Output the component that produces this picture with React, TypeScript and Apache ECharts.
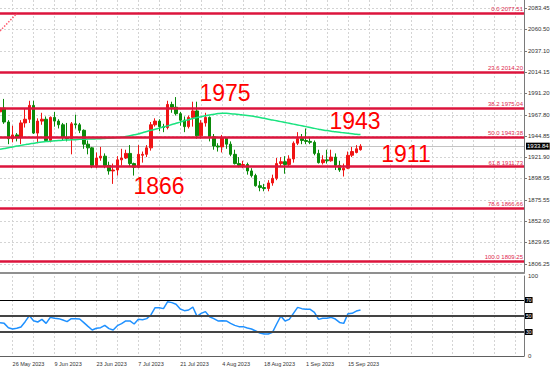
import React, { useEffect, useRef } from 'react';
import * as echarts from 'echarts';

const dates = [
  '23 May 2023', '24 May 2023', '25 May 2023', '26 May 2023', '29 May 2023', '30 May 2023', '31 May 2023',
  '1 Jun 2023', '2 Jun 2023', '5 Jun 2023', '6 Jun 2023', '7 Jun 2023', '8 Jun 2023', '9 Jun 2023',
  '12 Jun 2023', '13 Jun 2023', '14 Jun 2023', '15 Jun 2023', '16 Jun 2023', '19 Jun 2023', '20 Jun 2023',
  '21 Jun 2023', '22 Jun 2023', '23 Jun 2023', '26 Jun 2023', '27 Jun 2023', '28 Jun 2023', '29 Jun 2023',
  '30 Jun 2023', '3 Jul 2023', '4 Jul 2023', '5 Jul 2023', '6 Jul 2023', '7 Jul 2023', '10 Jul 2023',
  '11 Jul 2023', '12 Jul 2023', '13 Jul 2023', '14 Jul 2023', '17 Jul 2023', '18 Jul 2023', '19 Jul 2023',
  '20 Jul 2023', '21 Jul 2023', '24 Jul 2023', '25 Jul 2023', '26 Jul 2023', '27 Jul 2023', '28 Jul 2023',
  '31 Jul 2023', '1 Aug 2023', '2 Aug 2023', '3 Aug 2023', '4 Aug 2023', '7 Aug 2023', '8 Aug 2023',
  '9 Aug 2023', '10 Aug 2023', '11 Aug 2023', '14 Aug 2023', '15 Aug 2023', '16 Aug 2023', '17 Aug 2023',
  '18 Aug 2023', '21 Aug 2023', '22 Aug 2023', '23 Aug 2023', '24 Aug 2023', '25 Aug 2023', '28 Aug 2023',
  '29 Aug 2023', '30 Aug 2023', '31 Aug 2023', '1 Sep 2023', '4 Sep 2023', '5 Sep 2023', '6 Sep 2023',
  '7 Sep 2023', '8 Sep 2023', '11 Sep 2023', '12 Sep 2023', '13 Sep 2023', '14 Sep 2023', '15 Sep 2023',
  '18 Sep 2023', '19 Sep 2023', '20 Sep 2023',
];

const opens = [
  1971, 1975, 1960, 1942, 1946, 1943, 1959, 1963, 1978, 1948, 1961, 1963, 1940, 1965,
  1961, 1957, 1943, 1942, 1958, 1957, 1951, 1936, 1932, 1913, 1921, 1923, 1913, 1907,
  1908, 1919, 1921, 1926, 1915, 1911, 1924, 1925, 1932, 1957, 1961, 1955, 1954, 1979,
  1976, 1969, 1962, 1955, 1965, 1972, 1945, 1959, 1965, 1944, 1934, 1933, 1943, 1936,
  1925, 1915, 1913, 1914, 1907, 1902, 1891, 1889, 1888, 1894, 1899, 1915, 1917, 1914,
  1920, 1937, 1942, 1940, 1939, 1938, 1926, 1916, 1919, 1918, 1922, 1913, 1908, 1910,
  1924, 1927, 1930,
];
const highs = [
  1984, 1985, 1962, 1956, 1948, 1962, 1975, 1983, 1983, 1964, 1970, 1966, 1966, 1971,
  1963, 1959, 1959, 1960, 1968, 1959, 1952, 1940, 1933, 1927, 1933, 1926, 1917, 1915,
  1923, 1931, 1930, 1935, 1916, 1935, 1928, 1935, 1960, 1964, 1963, 1958, 1983, 1982,
  1987, 1971, 1966, 1967, 1982, 1982, 1962, 1970, 1966, 1947, 1937, 1946, 1943, 1939,
  1930, 1922, 1918, 1916, 1910, 1904, 1896, 1893, 1897, 1903, 1921, 1922, 1923, 1924,
  1939, 1949, 1947, 1953, 1943, 1940, 1930, 1924, 1930, 1930, 1926, 1918, 1915, 1928,
  1933, 1935, 1936,
];
const lows = [
  1956, 1958, 1936, 1938, 1939, 1936, 1954, 1959, 1947, 1937, 1957, 1940, 1938, 1955,
  1953, 1940, 1939, 1925, 1953, 1948, 1931, 1925, 1910, 1910, 1918, 1910, 1903, 1893,
  1902, 1913, 1920, 1912, 1902, 1910, 1916, 1922, 1929, 1955, 1950, 1949, 1952, 1970,
  1967, 1956, 1949, 1953, 1955, 1942, 1942, 1955, 1939, 1930, 1928, 1927, 1931, 1923,
  1914, 1911, 1910, 1903, 1900, 1890, 1885, 1885, 1885, 1891, 1897, 1912, 1904, 1912,
  1916, 1935, 1936, 1936, 1936, 1924, 1915, 1914, 1915, 1917, 1908, 1906, 1901, 1909,
  1922, 1926, 1929,
];
const closes = [
  1975, 1960, 1942, 1946, 1943, 1959, 1963, 1978, 1948, 1961, 1963, 1940, 1965, 1961,
  1957, 1943, 1942, 1958, 1957, 1951, 1936, 1932, 1913, 1921, 1923, 1913, 1907, 1908,
  1919, 1921, 1926, 1915, 1911, 1925, 1925, 1932, 1957, 1961, 1955, 1954, 1979, 1976,
  1969, 1962, 1955, 1965, 1972, 1945, 1959, 1965, 1944, 1934, 1933, 1943, 1936, 1925,
  1915, 1913, 1914, 1907, 1902, 1891, 1889, 1888, 1894, 1899, 1915, 1917, 1914, 1920,
  1937, 1942, 1940, 1939, 1938, 1926, 1916, 1919, 1918, 1922, 1913, 1908, 1910, 1924,
  1928, 1931, 1933.84,
];

const maValues = [
  1930.4, 1931.3, 1932.2, 1933.0, 1933.9, 1934.7, 1935.5, 1936.3, 1937.0, 1937.8,
  1938.4, 1938.8, 1939.2, 1939.6, 1940.0, 1940.3, 1940.5, 1940.7, 1940.9, 1941.2,
  1941.3, 1941.5, 1941.6, 1941.8, 1941.9, 1942.2, 1942.5, 1942.8, 1943.1, 1943.5,
  1944.2, 1945.1, 1946.1, 1947.0, 1948.4, 1949.7, 1951.0, 1952.2, 1953.4, 1954.6,
  1955.8, 1957.2, 1958.6, 1959.9, 1961.3, 1962.5, 1963.7, 1964.8, 1965.8, 1966.8,
  1967.7, 1968.4, 1969.1, 1969.4, 1969.4, 1969.0, 1968.6, 1968.2, 1967.6, 1967.0,
  1966.4, 1965.8, 1965.0, 1964.1, 1963.1, 1962.2, 1961.3, 1960.4, 1959.5, 1958.6,
  1957.7, 1956.8, 1955.9, 1955.0, 1954.1, 1953.1, 1952.2, 1951.3, 1950.7, 1950.1,
  1949.4, 1948.8, 1948.3, 1947.8, 1947.3, 1946.8, 1946.4,
];

const rsiValues = [
  41.7, 40.8, 35.4, 33.8, 34.6, 36.3, 42.9, 50.5, 44.0, 42.5,
  45.8, 40.8, 48.3, 47.1, 46.7, 45.0, 43.0, 46.7, 46.7, 46.3,
  41.7, 37.0, 32.5, 34.6, 35.4, 38.3, 34.2, 32.5, 37.9, 40.4,
  43.8, 43.8, 40.0, 45.8, 45.4, 46.7, 51.3, 60.4, 60.4, 59.2,
  67.9, 66.7, 64.6, 58.7, 56.7, 57.5, 61.2, 49.6, 53.3, 55.5,
  49.0, 46.7, 43.8, 44.2, 43.8, 40.8, 38.3, 36.7, 36.7, 35.0,
  33.8, 31.3, 28.8, 27.5, 27.5, 29.5, 40.0, 50.0, 43.8, 45.8,
  53.3, 60.8, 59.2, 58.3, 58.3, 54.6, 45.8, 47.1, 47.1, 48.3,
  46.2, 42.0, 40.8, 52.9, 53.3, 56.2, 57.5,
];

const priceTicks = [
  2083.45, 2060.5, 2037.1, 2014.15, 1991.2, 1967.8, 1944.85,
  1921.9, 1898.95, 1875.55, 1852.6, 1829.65, 1806.25,
];
const fibPct = ['0.0', '23.6', '38.2', '50.0', '61.8', '78.6', '100.0'];
const fibLevels = [2077.51, 2014.2, 1975.04, 1943.38, 1911.73, 1866.66, 1809.25];
const rsiLevels = [70, 50, 30];
const rsiTicks = [0, 100];
const lastPrice = 1933.84;
const annotations = ['1975', '1943', '1911', '1866'];
const fibTrendStart = 2058.6;
const futureSlots = 39;

export default function App() {
  const ref = useRef<HTMLDivElement>(null);

  useEffect(() => {
    if (!ref.current) return;
    const chart = echarts.init(ref.current, undefined, { renderer: 'svg' });

    const categories = dates.concat(Array.from({ length: futureSlots }, (_, k) => 'f' + k));
    const isGridIdx = (idx: number) => idx % 5 === 3;
    const isLabelIdx = (idx: number) => idx % 10 === 3 && idx < dates.length;
    const fontFamily = '"Liberation Sans", Arial, sans-serif';
    const splitStyle = { color: '#d4d4d4', type: [2, 2] as any, width: 1 };
    const candleData = dates.map((_, i) => [opens[i], closes[i], lows[i], highs[i]]);

    const fibMarks: any[] = fibLevels.map((v, k) => ({
      yAxis: v,
      label: { formatter: `${fibPct[k]} ${v.toFixed(2)}` },
    }));
    fibMarks.push([
      {
        coord: [0, fibTrendStart],
        lineStyle: { type: 'dotted', color: '#ff5a6e', width: 1.5 },
        label: { show: false },
      },
      { coord: [4, fibLevels[0]] },
    ]);

    const textEl = (t: string, x: number, y: number) => ({
      type: 'text',
      x,
      y,
      z: 100,
      style: {
        text: t,
        fill: '#ff0000',
        fontSize: 23,
        fontFamily,
        align: 'center',
        verticalAlign: 'middle',
      },
    });

    chart.setOption({
      animation: false,
      backgroundColor: '#ffffff',
      grid: [
        { left: -1, right: 30, top: 0, height: 273 },
        { left: -1, right: 30, top: 276, height: 80 },
      ],
      xAxis: [
        {
          type: 'category',
          gridIndex: 0,
          data: categories,
          boundaryGap: false,
          axisLine: { show: true, lineStyle: { color: '#8f8f8f', width: 2 } },
          axisTick: { show: false },
          axisLabel: { show: false },
          splitLine: { show: true, interval: (idx: number) => isGridIdx(idx), lineStyle: splitStyle },
        },
        {
          type: 'category',
          gridIndex: 1,
          data: categories,
          boundaryGap: false,
          axisLine: { show: true, lineStyle: { color: '#606060', width: 1 } },
          axisTick: { show: false },
          axisLabel: {
            show: true,
            interval: (idx: number) => isLabelIdx(idx),
            align: 'left',
            fontSize: 5.5,
            fontFamily,
            color: '#333',
            margin: 5,
          },
          splitLine: { show: true, interval: (idx: number) => isGridIdx(idx), lineStyle: splitStyle },
        },
      ],
      yAxis: [
        {
          type: 'value',
          gridIndex: 0,
          position: 'right',
          min: 1796.5,
          max: 2092.11,
          axisLine: { show: true, lineStyle: { color: '#7a7a7a', width: 1 } },
          axisTick: { show: true, length: 3, customValues: priceTicks, lineStyle: { color: '#7a7a7a' } },
          axisLabel: {
            customValues: priceTicks,
            formatter: (v: number) => v.toFixed(2),
            fontSize: 6,
            fontFamily,
            color: '#333',
            margin: 4,
          },
          splitLine: { show: true, lineStyle: splitStyle },
        },
        {
          type: 'value',
          gridIndex: 1,
          position: 'right',
          min: 0,
          max: 100,
          axisLine: { show: true, lineStyle: { color: '#7a7a7a', width: 1 } },
          axisTick: { show: false },
          axisLabel: {
            customValues: rsiTicks,
            fontSize: 6,
            fontFamily,
            color: '#333',
            margin: 4,
          },
          splitLine: { show: false },
        },
      ],
      series: [
        {
          type: 'candlestick',
          xAxisIndex: 0,
          yAxisIndex: 0,
          data: candleData,
          barWidth: 3,
          z: 2,
          itemStyle: {
            color: '#f01414',
            color0: '#0a8a0a',
            borderColor: '#f01414',
            borderColor0: '#0a8a0a',
            borderWidth: 1,
          },
          markLine: {
            silent: true,
            symbol: 'none',
            z: 1,
            lineStyle: { color: '#c4c4c4', width: 1, type: 'solid' },
            label: {
              show: true,
              position: 'end',
              formatter: lastPrice.toFixed(2),
              backgroundColor: '#000',
              color: '#fff',
              fontSize: 6,
              fontFamily,
              padding: [1, 1, 0, 1],
              distance: 2,
            },
            data: [{ yAxis: lastPrice }],
          },
        },
        {
          type: 'line',
          xAxisIndex: 0,
          yAxisIndex: 0,
          data: maValues,
          smooth: true,
          symbol: 'none',
          z: 3,
          lineStyle: { color: '#19e37f', width: 1.5 },
          markLine: {
            silent: true,
            symbol: 'none',
            z: 6,
            lineStyle: { color: '#dc143c', width: 2.5, type: 'solid' },
            label: {
              show: true,
              position: 'insideEndTop',
              color: '#e0284f',
              fontSize: 6,
              fontFamily,
              distance: [1, 1],
            },
            data: fibMarks,
          },
        },
        {
          type: 'line',
          xAxisIndex: 1,
          yAxisIndex: 1,
          data: rsiValues,
          symbol: 'none',
          lineStyle: { color: '#1e90ff', width: 1.5 },
          markLine: {
            silent: true,
            symbol: 'none',
            label: {
              show: true,
              position: 'end',
              backgroundColor: '#000',
              color: '#fff',
              fontSize: 5,
              fontFamily,
              padding: [1, 1, 0, 1],
              distance: 1,
            },
            data: rsiLevels.map((v, k) => ({
              yAxis: v,
              lineStyle: k === 0
                ? { color: '#000', width: 1, type: 'solid' }
                : { color: '#444', width: 2, type: 'solid' },
            })),
          },
        },
      ],
      graphic: [
        textEl(annotations[0], 225, 93),
        textEl(annotations[1], 355, 121),
        textEl(annotations[2], 406, 154),
        textEl(annotations[3], 159, 186),
      ],
    });

    return () => chart.dispose();
  }, []);

  return (
    <div
      ref={ref}
      style={{ position: 'absolute', left: 0, top: 0, width: 554, height: 369, background: '#fff' }}
    />
  );
}
